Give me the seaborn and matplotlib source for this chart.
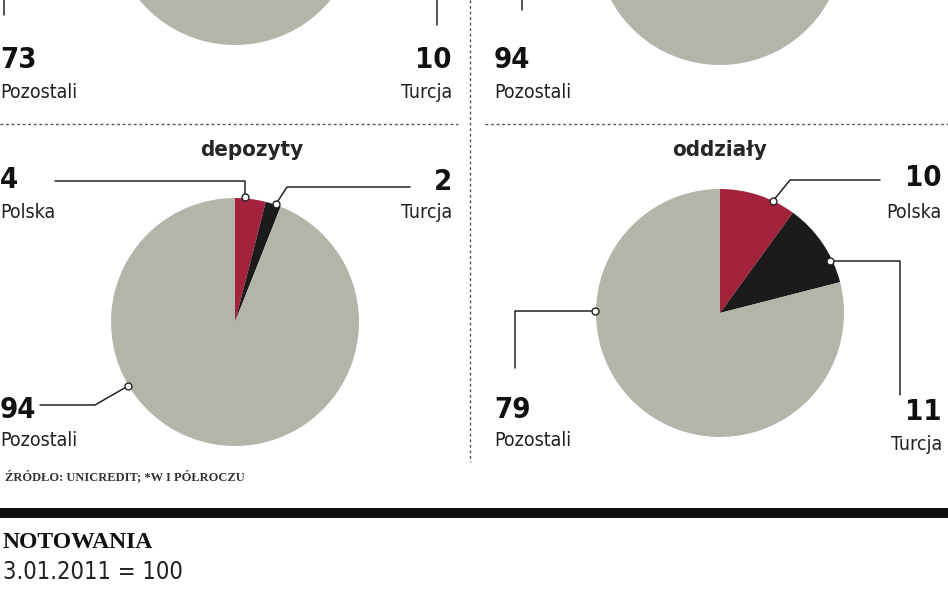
import matplotlib
matplotlib.use("Agg")
import matplotlib.pyplot as plt
import seaborn as sns

sns.set_style("white")
plt.rcParams['font.family'] = ['DejaVu Sans']
plt.rcParams['font.stretch'] = 'condensed'

labels = ["Polska", "Turcja", "Pozostali"]
top_left = [17, 10, 73]
top_right = [3, 3, 94]
depozyty = [4, 2, 94]
oddzialy = [10, 11, 79]
colors = ["#a3233c", "#1c1a1a", "#b4b5aa"]

W, H = 948, 593
fig = plt.figure(figsize=(9.48, 5.93), dpi=100)
ax = fig.add_axes([0, 0, 1, 1])
ax.set_xlim(0, W); ax.set_ylim(0, H); ax.axis("off")

def Y(y): return H - y
R = 124
def pie(vals, cx, cy):
    ax.pie(vals, colors=colors, startangle=90, counterclock=False,
           center=(cx, Y(cy)), radius=R, wedgeprops=dict(linewidth=0))

pie(top_left, 235, -79)
pie(top_right, 720, -59)
pie(depozyty, 235, 322)
pie(oddzialy, 720, 313)
ax.set_xlim(0, W); ax.set_ylim(0, H); ax.set_aspect("auto")

def leader(pts, marker=True):
    xs = [p[0] for p in pts]; ys = [Y(p[1]) for p in pts]
    ax.plot(xs, ys, color="#222", lw=1.1)
    if marker:
        ax.plot(xs[-1], ys[-1], "o", ms=5, mfc="white", mec="#222", mew=1)

def num(x, y, t, ha="left"):
    ax.text(x, Y(y), t, fontsize=21, fontweight="bold", ha=ha, va="center", color="#111")
def lab(x, y, t, ha="left"):
    ax.text(x, Y(y), t, fontsize=14, ha=ha, va="center", color="#222")

leader([(437, 0), (437, 25)], marker=False)
leader([(4, 0), (4, 15)], marker=False)
leader([(522, 0), (522, 10)], marker=False)
num(0, 60, "73"); lab(0, 92, "Pozostali")
num(452, 60, "10", "right"); lab(452, 92, "Turcja", "right")
num(494, 60, "94"); lab(494, 92, "Pozostali")

ax.plot([0, 458], [Y(124), Y(124)], color="#555", lw=1, ls=(0, (2, 2)))
ax.plot([485, 948], [Y(124), Y(124)], color="#555", lw=1, ls=(0, (2, 2)))
ax.plot([470, 470], [Y(0), Y(462)], color="#555", lw=1, ls=(0, (2, 2)))

ax.text(252, Y(150), "depozyty", fontsize=16, fontweight="bold", ha="center", va="center")
leader([(55, 181), (245, 181), (245, 197)])
num(0, 180, "4"); lab(0, 213, "Polska")
leader([(410, 187), (287, 187), (276, 204)])
num(452, 182, "2", "right"); lab(452, 213, "Turcja", "right")
leader([(40, 405), (95, 405), (128, 386)])
num(0, 410, "94"); lab(0, 440, "Pozostali")

ax.text(720, Y(150), "oddziały", fontsize=16, fontweight="bold", ha="center", va="center")
leader([(880, 180), (790, 180), (773, 201)])
num(942, 178, "10", "right"); lab(942, 213, "Polska", "right")
leader([(900, 395), (900, 261), (830, 261)])
num(942, 412, "11", "right"); lab(942, 445, "Turcja", "right")
leader([(515, 368), (515, 311), (595, 311)])
num(494, 410, "79"); lab(494, 440, "Pozostali")

ax.text(5, Y(477), "ŹRÓDŁO: UNICREDIT; *W I PÓŁROCZU", fontsize=9, fontweight="bold",
        family=["Liberation Serif", "DejaVu Serif"], ha="left", va="center", color="#333")

ax.fill_between([0, W], Y(518), Y(508), color="#111", lw=0)
ax.text(3, Y(543), "NOTOWANIA", fontsize=17, fontweight="bold",
        family=["Liberation Serif", "DejaVu Serif"], ha="left", va="center", color="#111")
ax.text(3, Y(572), "3.01.2011 = 100", fontsize=17,
        ha="left", va="center", color="#222")

fig.savefig("out.png", dpi=100)
